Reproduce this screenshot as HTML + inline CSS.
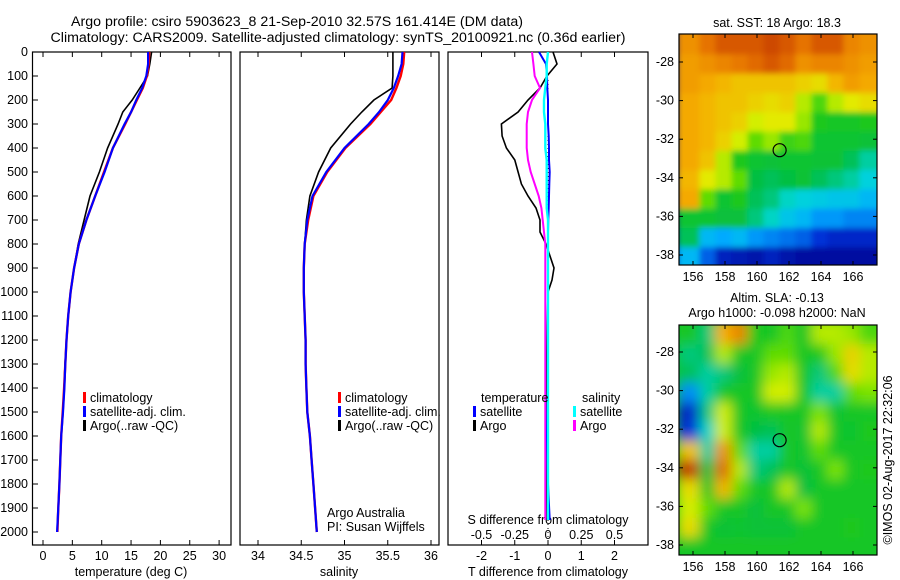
<!DOCTYPE html>
<html><head><meta charset="utf-8"><style>
body{margin:0;background:#fff;}
svg{display:block;font-family:"Liberation Sans",sans-serif;}
text{fill:#000;}
</style></head><body>
<svg id="chart" width="900" height="580" viewBox="0 0 900 580">
<defs>
<filter id="blur1" x="-5%" y="-5%" width="110%" height="110%"><feGaussianBlur stdDeviation="3"/></filter>
<filter id="blur2" x="-5%" y="-5%" width="110%" height="110%"><feGaussianBlur stdDeviation="6"/></filter>
<clipPath id="clipM1"><rect x="679" y="34" width="198" height="231"/></clipPath>
<clipPath id="clipM2"><rect x="679" y="325" width="198" height="230"/></clipPath>
</defs>
<text x="297" y="26" font-size="14.2" text-anchor="middle">Argo profile: csiro 5903623_8 21-Sep-2010 32.57S 161.414E (DM data)</text>
<text x="338" y="42" font-size="14.2" text-anchor="middle">Climatology: CARS2009. Satellite-adjusted climatology: synTS_20100921.nc (0.36d earlier)</text>
<g id="g"></g>
</svg>
<script>
// ---- data ----
const depths = [0,50,100,150,200,250,300,400,500,600,700,800,900,1000,1100,1200,1300,1400,1500,1600,1700,1800,1900,2000];
const tempClim = [18.1,18.0,17.7,17.0,16.0,15.0,14.0,11.9,10.4,8.9,7.4,6.1,5.3,4.7,4.3,4.0,3.8,3.6,3.35,3.1,2.95,2.8,2.6,2.45];
const tempSat  = [17.9,17.9,17.6,16.9,15.9,15.0,13.9,11.9,10.5,8.9,7.4,6.1,5.3,4.7,4.3,4.0,3.8,3.65,3.4,3.1,2.95,2.8,2.6,2.4];
const tempArgo = [18.5,18.2,17.8,16.5,15.2,13.6,12.8,11.0,9.6,8.0,7.0,6.0,5.3,4.7,4.3,4.0,3.75,3.6,3.35,3.1,2.95,2.8,2.6,2.45];
const salClim = [35.69,35.68,35.65,35.6,35.54,35.42,35.3,35.01,34.8,34.64,34.58,34.54,34.53,34.53,34.54,34.55,34.55,34.56,34.57,34.6,34.62,34.64,34.66,34.68];
const salSat  = [35.67,35.66,35.62,35.57,35.5,35.4,35.28,35.0,34.79,34.63,34.57,34.54,34.53,34.53,34.54,34.55,34.55,34.56,34.57,34.6,34.62,34.64,34.66,34.68];
const salArgo = [35.56,35.56,35.56,35.55,35.34,35.2,35.07,34.84,34.7,34.6,34.56,34.54,34.53,34.53,34.54,34.55,34.55,34.56,34.57,34.6,34.62,34.64,34.66,34.68];
const dDepths = [0,50,100,150,200,250,300,350,400,450,500,550,600,650,700,750,800,850,900,950,1000,1200,1400,1600,1800,1950];
const dTArgo = [0.15,0.27,-0.03,-0.24,-0.6,-0.9,-1.4,-1.38,-1.25,-1.0,-0.9,-0.8,-0.6,-0.36,-0.24,-0.24,-0.06,0.06,0.18,0.12,0.0,-0.03,-0.05,-0.05,-0.04,-0.03];
const dTSat  = [-0.27,-0.06,-0.03,-0.02,0.0,0.0,0.0,0.02,0.03,0.03,0.05,0.04,0.03,0.02,0.01,0.0,0.0,0.0,0.0,0.0,0.0,0.0,0.0,-0.03,0.0,0.05];
const dSArgo = [-0.12,-0.11,-0.1,-0.06,-0.12,-0.15,-0.16,-0.16,-0.16,-0.15,-0.13,-0.1,-0.07,-0.05,-0.04,-0.03,-0.02,-0.02,-0.02,-0.02,-0.02,-0.02,-0.02,-0.02,-0.02,-0.02];
const dSSat  = [0.0,-0.01,-0.01,-0.02,-0.03,-0.03,-0.02,-0.02,-0.02,-0.01,-0.01,-0.01,-0.01,-0.01,0.0,0.0,0.0,0.0,0.0,0.0,0.0,0.0,0.0,0.0,0.0,0.0];
const depthTicks = [0,100,200,300,400,500,600,700,800,900,1000,1100,1200,1300,1400,1500,1600,1700,1800,1900,2000];
const tTicks = [0,5,10,15,20,25,30];
const sTicks = [34,34.5,35,35.5,36];
const dTTicks = [-2,-1,0,1,2];
const dSTicks = [-0.5,-0.25,0,0.25,0.5];
const lonTicks = [156,158,160,162,164,166];
const latTicks = [-28,-30,-32,-34,-36,-38];
const sstGrid = [
[.8,.85,.88,.88,.88,.9,.88,.85,.88,.88,.82,.8],
[.78,.8,.82,.84,.86,.88,.86,.8,.82,.82,.8,.78],
[.78,.76,.74,.72,.72,.72,.72,.7,.68,.74,.78,.76],
[.76,.74,.72,.72,.7,.68,.7,.62,.55,.62,.66,.68],
[.76,.74,.72,.7,.64,.66,.66,.6,.52,.5,.5,.52],
[.76,.74,.7,.64,.56,.6,.54,.55,.48,.48,.48,.46],
[.76,.72,.62,.52,.48,.46,.48,.48,.47,.47,.42,.38],
[.74,.66,.62,.56,.44,.42,.44,.47,.42,.4,.38,.34],
[.76,.56,.48,.52,.42,.4,.36,.34,.33,.32,.32,.3],
[.48,.48,.45,.45,.4,.36,.32,.3,.26,.26,.24,.24],
[.42,.3,.28,.3,.26,.24,.22,.2,.15,.12,.12,.12],
[.3,.2,.1,.08,.06,.1,.06,.04,.04,.04,.04,.04]];
const slaGrid = [
[.5,.4,.75,.82,.52,.5,.55,.5,.62,.62,.6,.55],
[.4,.42,.62,.5,.5,.56,.56,.5,.52,.6,.7,.62],
[.42,.38,.4,.45,.5,.6,.62,.5,.4,.55,.68,.62],
[.25,.38,.5,.5,.5,.64,.64,.5,.38,.38,.56,.58],
[.12,.4,.64,.5,.48,.52,.5,.5,.58,.48,.5,.5],
[.15,.36,.64,.5,.44,.42,.5,.48,.62,.5,.48,.52],
[.72,.38,.8,.56,.38,.38,.5,.48,.56,.5,.5,.5],
[.92,.44,.86,.62,.4,.42,.5,.46,.5,.58,.5,.52],
[.68,.5,.74,.56,.5,.5,.62,.44,.5,.5,.5,.5],
[.64,.56,.5,.5,.45,.5,.5,.58,.5,.5,.5,.5],
[.68,.5,.46,.48,.46,.46,.46,.5,.5,.5,.52,.5],
[.5,.5,.5,.5,.5,.5,.5,.5,.5,.5,.5,.5]];
const argoLon = 161.414, argoLat = -32.57;

// ---- helpers ----
const NS='http://www.w3.org/2000/svg';
const G=document.getElementById('g');
function mk(tag,attrs,parent){const e=document.createElementNS(NS,tag);for(const k in attrs)e.setAttribute(k,attrs[k]);(parent||G).appendChild(e);return e;}
const yD = d => 52 + d*0.24;
const xT = v => 43 + v*5.87;
const xS = v => 258 + (v-34)*86.5;
const xDT = v => 548 + v*33.25;
const xDS = v => 548 + v*133;
const mx = lon => 693 + (lon-156)*16;
const my1 = lat => 62 + (-28-lat)*19.3;
const my2 = lat => 352 + (-28-lat)*19.3;

function frame(x,y,w,h,name){const r=mk('rect',{x:x,y:y,width:w,height:h,fill:'none',stroke:'#000','stroke-width':1.2});

}
function line(vals,ys,fx,color,w,name){
 const pts=vals.map((v,i)=>fx(v).toFixed(1)+','+yD(ys[i]).toFixed(1)).join(' ');
 const p=mk('polyline',{points:pts,fill:'none',stroke:color,'stroke-width':w});
 
 }
function txt(x,y,s,opts,name){const t=mk('text',Object.assign({x:x,y:y,'font-size':12.5},opts||{}));t.textContent=s;
 
 return t;}
function tick(x1,y1,x2,y2){const l=mk('line',{x1:x1,y1:y1,x2:x2,y2:y2,stroke:'#000','stroke-width':1});
 
 }
function legendItem(x,y,color,label,name){
 const r=mk('rect',{x:x,y:y-10,width:3,height:11,fill:color});
 
 
 txt(x+7,y,label,{},name+'-label');}

// ---- panel 1: temperature ----
frame(32.5,52,198.5,493,'temperature-panel-frame');
depthTicks.forEach(d=>{tick(32.5,yD(d),38,yD(d));txt(28,yD(d)+4,String(d),{'text-anchor':'end'},'depth-tick-label');});
tTicks.forEach(v=>{tick(xT(v),545,xT(v),540);tick(xT(v),52,xT(v),57);txt(xT(v),560,String(v),{'text-anchor':'middle'},'temperature-tick-label');});
txt(131,576,'temperature (deg C)',{'text-anchor':'middle'},'temperature-axis-title');
line(tempArgo,depths,xT,'#000',1.6,'temperature-argo-line');
line(tempClim,depths,xT,'#f00',2.4,'temperature-climatology-line');
line(tempSat,depths,xT,'#00f',2.2,'temperature-satellite-line');
legendItem(83,402,'#f00','climatology','legend-climatology');
legendItem(83,416,'#00f','satellite-adj. clim.','legend-satellite');
legendItem(83,430,'#000','Argo(..raw -QC)','legend-argo');

// ---- panel 2: salinity ----
frame(240,52,199,493,'salinity-panel-frame');
sTicks.forEach(v=>{tick(xS(v),545,xS(v),540);tick(xS(v),52,xS(v),57);txt(xS(v),560,String(v),{'text-anchor':'middle'},'salinity-tick-label');});
txt(339,576,'salinity',{'text-anchor':'middle'},'salinity-axis-title');
line(salArgo,depths,xS,'#000',1.6,'salinity-argo-line');
line(salClim,depths,xS,'#f00',2.4,'salinity-climatology-line');
line(salSat,depths,xS,'#00f',2.2,'salinity-satellite-line');
legendItem(338,402,'#f00','climatology','legend-climatology-s');
legendItem(338,416,'#00f','satellite-adj. clim.','legend-satellite-s');
legendItem(338,430,'#000','Argo(..raw -QC)','legend-argo-s');
txt(327,517,'Argo Australia',{},'program-label');
txt(327,531,'PI: Susan Wijffels',{},'pi-label');

// ---- panel 3: differences ----
frame(448,52,200,493,'difference-panel-frame');
const dz=mk('line',{x1:548,y1:80,x2:548,y2:545,stroke:'#000','stroke-width':1,'stroke-dasharray':'1,3'});


dTTicks.forEach(v=>{tick(xDT(v),545,xDT(v),540);tick(xDT(v),52,xDT(v),57);txt(xDT(v),560,String(v),{'text-anchor':'middle'},'t-diff-tick-label');});
dSTicks.forEach(v=>{txt(xDS(v),539,String(v),{'text-anchor':'middle'},'s-diff-tick-label');});
txt(548,524,'S difference from climatology',{'text-anchor':'middle'},'s-diff-axis-title');
txt(548,576,'T difference from climatology',{'text-anchor':'middle'},'t-diff-axis-title');
line(dTArgo,dDepths,xDT,'#000',1.6,'t-diff-argo-line');
line(dSArgo,dDepths,xDS,'#f0f',2,'s-diff-argo-line');
line(dTSat,dDepths,xDT,'#00f',2,'t-diff-satellite-line');
line(dSSat,dDepths,xDS,'#0ff',2.4,'s-diff-satellite-line');
txt(481,402,'temperature',{},'legend-temperature-heading');
txt(582,402,'salinity',{},'legend-salinity-heading');
legendItem(473,416,'#00f','satellite','legend-t-satellite');
legendItem(473,430,'#000','Argo','legend-t-argo');
legendItem(573,416,'#0ff','satellite','legend-s-satellite');
legendItem(573,430,'#f0f','Argo','legend-s-argo');

// ---- maps ----
const stops=[[0,[0,0,140]],[.15,[0,50,215]],[.28,[0,170,255]],[.35,[0,215,215]],[.43,[0,190,70]],[.52,[30,200,30]],[.57,[110,225,0]],[.65,[225,240,0]],[.75,[245,175,0]],[.85,[230,115,0]],[.95,[180,30,0]]];
function col(v){for(let i=1;i<stops.length;i++){if(v<=stops[i][0]){const a=stops[i-1],b=stops[i],t=(v-a[0])/(b[0]-a[0]);return 'rgb('+a[1].map((c,k)=>Math.round(c+(b[1][k]-c)*t)).join(',')+')';}}return 'rgb(180,30,0)';}
function drawMap(grid,top,h,clip,filt,myf,name){
 const g=mk('g',{'clip-path':'url(#'+clip+')'});
 
 
 mk('rect',{x:679,y:top,width:198,height:h,fill:col(grid[11][11])},g);
 const gi=mk('g',{filter:'url(#'+filt+')'},g);
 grid.forEach((row,r)=>row.forEach((v,c)=>{
  const x0=mx(155.4+c), y0=myf(-26.6-r);
  const cell=mk('rect',{x:x0-6,y:y0-6,width:16+(c==0||c==11?12:0),height:19.3+(r==0||r==11?12:0),fill:col(v)},gi);
  if(c>0) cell.setAttribute('x',x0); if(r>0) cell.setAttribute('y',y0);
  if(c>0&&c<11) cell.setAttribute('width',16.5); if(r>0&&r<11) cell.setAttribute('height',19.8);
 }));
 const fr=mk('rect',{x:679,y:top,width:198,height:h,fill:'none',stroke:'#000','stroke-width':1.2});
 
 
 lonTicks.forEach(l=>{tick(mx(l),top,mx(l),top+4);tick(mx(l),top+h,mx(l),top+h-4);txt(mx(l),top+h+16,String(l),{'text-anchor':'middle'},'longitude-tick-label');});
 latTicks.forEach(l=>{tick(679,myf(l),683,myf(l));tick(877,myf(l),873,myf(l));txt(674,myf(l)+4,String(l),{'text-anchor':'end'},'latitude-tick-label');});
 const c=mk('circle',{cx:mx(argoLon),cy:myf(argoLat),r:6.5,fill:'none',stroke:'#000','stroke-width':1.2});
 
 
}
drawMap(sstGrid,34,231,'clipM1','blur1',my1,'sst-map');
drawMap(slaGrid,325,230,'clipM2','blur2',my2,'sla-map');
txt(777,27,'sat. SST: 18 Argo: 18.3',{'text-anchor':'middle'},'sst-map-title');
txt(777,302,'Altim. SLA: -0.13',{'text-anchor':'middle'},'sla-map-title');
txt(777,317,'Argo h1000: -0.098 h2000: NaN',{'text-anchor':'middle'},'sla-map-subtitle');
txt(0,0,'©IMOS 02-Aug-2017 22:32:06',{'text-anchor':'middle',transform:'translate(892,460) rotate(-90)'},'credit-timestamp');
</script>
</body></html>
